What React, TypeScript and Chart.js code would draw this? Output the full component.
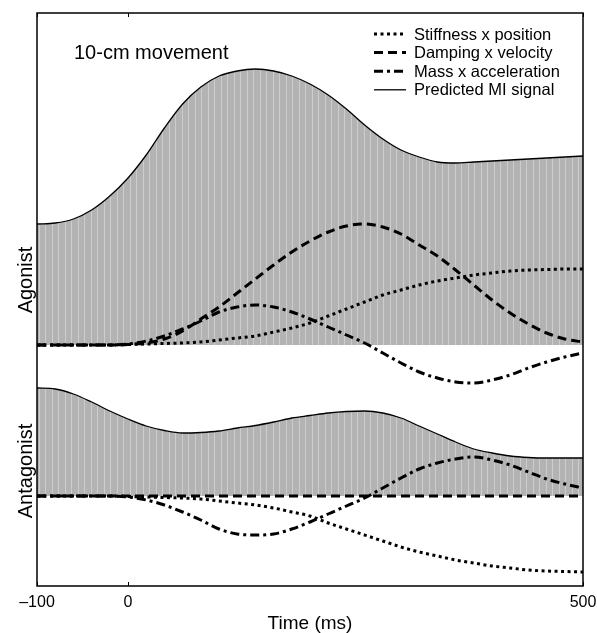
import { useEffect, useRef } from "react";
import { Chart, registerables } from "chart.js";

Chart.register(...registerables);

// ---------- data (arbitrary units) ----------
const TIME_MS = [
  -100, -80, -60, -40, -20, 0, 20, 40, 60, 80, 100, 120, 140, 160, 180, 200,
  220, 240, 260, 280, 300, 320, 340, 360, 380, 400, 420, 440, 460, 480, 500,
];

const AGONIST_STIFFNESS = [
  0, 0, 0, 0, 0, 0.5, 1, 1.5, 2, 3, 5, 7, 9, 13, 17, 22, 29, 36, 43, 50, 55,
  60, 64, 67, 70, 72, 74, 75, 75.5, 76, 76,
];
const AGONIST_DAMPING = [
  0, 0, 0, 0, 0, 0.5, 2, 6, 14, 26, 38, 52, 66, 80, 93, 104, 113, 119, 121,
  118, 111, 100, 89, 75, 60, 45, 32, 21, 12, 6, 3,
];
const AGONIST_MASS = [
  0, 0, 0, 0, 0, 1, 4, 9, 16, 24, 33, 38, 40, 38, 33, 26, 18, 10, 2, -8, -18,
  -27, -33, -37, -38, -35, -30, -23, -17, -12, -8,
];
const AGONIST_MI = [
  121, 122, 126, 135, 149, 167, 190, 217, 241, 258, 269, 274, 276, 274, 269,
  261, 250, 236, 220, 206, 195, 188, 183, 182, 183, 184, 185, 186, 187, 188,
  189,
];

const ANTAGONIST_STIFFNESS = [
  0, 0, 0, 0, 0, -0.5, -1, -1.5, -2, -3, -5, -7, -9, -12, -16, -20, -27, -33,
  -39, -45, -51, -56, -60, -64, -67, -70, -72, -74, -75, -75.5, -76,
];
const ANTAGONIST_DAMPING = [
  0, 0, 0, 0, 0, 0, 0, 0, 0, 0, 0, 0, 0, 0, 0, 0, 0, 0, 0, 0, 0, 0, 0, 0, 0,
  0, 0, 0, 0, 0, 0,
];
const ANTAGONIST_MASS = [
  0, 0, 0, 0, 0, -1, -4, -9, -16, -24, -33, -38, -39, -38, -33, -26, -18, -10,
  -2, 8, 18, 27, 33, 37, 39, 36, 31, 24, 17, 12, 8,
];
const ANTAGONIST_MI = [
  108, 107, 102, 94, 85, 77, 70, 65.5, 63, 63.5, 65, 68, 70.5, 74, 78, 80.5,
  83, 84.5, 85, 83, 78, 70, 62, 54, 47, 43, 40, 38.5, 38, 38, 38,
];

const X_TICKS = [-100, 0, 500];
const SERIES_LABELS = [
  "Stiffness x position",
  "Damping x velocity",
  "Mass x acceleration",
  "Predicted MI signal",
];
const PANEL_LABELS = ["Agonist", "Antagonist"];
const ANNOTATION = "10-cm movement";
const X_TITLE = "Time (ms)";

// ---------- styles ----------
const FONT = '"Liberation Sans", Arial, Helvetica, sans-serif';
const DOTTED = [3, 3.5];
const DASHED = [9, 5];
const DASHDOT = [9, 4, 3, 4];

const pts = (arr: number[]) => TIME_MS.map((t, i) => ({ x: t, y: arr[i] }));

export default function App() {
  const ref = useRef<HTMLCanvasElement>(null);

  useEffect(() => {
    const canvas = ref.current!;
    const ctx = canvas.getContext("2d")!;

    // striped grey fill pattern
    const pc = document.createElement("canvas");
    pc.width = 13;
    pc.height = 4;
    const p = pc.getContext("2d")!;
    p.fillStyle = "#b3b3b3";
    p.fillRect(0, 0, 13, 4);
    p.fillStyle = "#cdcdcd";
    p.fillRect(0, 0, 1, 4);
    p.fillRect(6, 0, 1, 4);
    const pattern = ctx.createPattern(pc, "repeat")!;

    const comp = (
      label: string,
      data: number[],
      axis: string,
      dash: number[],
      legend: boolean
    ) => ({
      label,
      data: pts(data),
      yAxisID: axis,
      borderColor: "#000",
      borderWidth: 3,
      borderDash: dash,
      borderCapStyle: "butt" as const,
      pointRadius: 0,
      fill: false,
      cubicInterpolationMode: "monotone" as const,
      showInLegend: legend,
    });
    const mi = (label: string, data: number[], axis: string, legend: boolean) => ({
      label,
      data: pts(data),
      yAxisID: axis,
      borderColor: "#000",
      borderWidth: 1.3,
      borderDash: [] as number[],
      pointRadius: 0,
      fill: "origin",
      backgroundColor: pattern,
      cubicInterpolationMode: "monotone" as const,
      showInLegend: legend,
    });

    const decorations = {
      id: "decorations",
      afterDatasetsDraw(chart: any) {
        const c = chart.ctx as CanvasRenderingContext2D;
        const a = chart.chartArea;
        const xs = chart.scales.x;
        c.save();
        c.strokeStyle = "#000";
        c.lineWidth = 1.5;
        c.setLineDash([]);
        c.strokeRect(a.left, a.top, a.right - a.left, a.bottom - a.top);
        c.lineWidth = 1;
        X_TICKS.forEach((v) => {
          const px = Math.round(xs.getPixelForValue(v)) + 0.5;
          c.beginPath();
          c.moveTo(px, a.top);
          c.lineTo(px, a.top + 4);
          c.moveTo(px, a.bottom);
          c.lineTo(px, a.bottom - 4);
          c.stroke();
        });
        c.restore();
      },
      afterDraw(chart: any) {
        const c = chart.ctx as CanvasRenderingContext2D;
        const a = chart.chartArea;
        c.save();
        c.fillStyle = "#000";
        c.textBaseline = "middle";

        // annotation
        c.font = `20px ${FONT}`;
        c.textAlign = "left";
        c.fillText(ANNOTATION, a.left + 37, a.top + 40);

        // legend
        const items = chart.data.datasets.filter((d: any) => d.showInLegend);
        const lx = a.left + 337;
        let ly = a.top + 21;
        c.font = `16.5px ${FONT}`;
        items.forEach((d: any) => {
          c.beginPath();
          c.setLineDash(d.borderDash || []);
          c.lineWidth = d.borderWidth;
          c.lineCap = "butt";
          c.strokeStyle = "#000";
          c.moveTo(lx, ly);
          c.lineTo(lx + 32, ly);
          c.stroke();
          c.setLineDash([]);
          c.fillText(d.label, lx + 40, ly + 1);
          ly += 18.6;
        });

        // panel labels
        c.font = `20px ${FONT}`;
        c.textAlign = "center";
        const places = [
          chart.scales.yA.getPixelForValue(65),
          chart.scales.yB.getPixelForValue(25),
        ];
        PANEL_LABELS.forEach((txt, i) => {
          c.save();
          c.translate(a.left - 11, places[i]);
          c.rotate(-Math.PI / 2);
          c.fillText(txt, 0, 0);
          c.restore();
        });
        c.restore();
      },
    };

    const chart = new Chart(canvas, {
      type: "line",
      data: {
        datasets: [
          comp(SERIES_LABELS[0], AGONIST_STIFFNESS, "yA", DOTTED, true),
          comp(SERIES_LABELS[1], AGONIST_DAMPING, "yA", DASHED, true),
          comp(SERIES_LABELS[2], AGONIST_MASS, "yA", DASHDOT, true),
          mi(SERIES_LABELS[3], AGONIST_MI, "yA", true),
          comp(SERIES_LABELS[0], ANTAGONIST_STIFFNESS, "yB", DOTTED, false),
          comp(SERIES_LABELS[1], ANTAGONIST_DAMPING, "yB", DASHED, false),
          comp(SERIES_LABELS[2], ANTAGONIST_MASS, "yB", DASHDOT, false),
          mi(SERIES_LABELS[3], ANTAGONIST_MI, "yB", false),
        ].map((d, i) => ({ ...d, order: d.fill === "origin" ? 10 + i : i })) as any,
      },
      options: {
        animation: false,
        responsive: true,
        maintainAspectRatio: false,
        events: [],
        layout: { padding: { left: 37, right: 14, top: 13, bottom: 0 } },
        plugins: {
          legend: { display: false },
          tooltip: { enabled: false },
        },
        scales: {
          x: {
            type: "linear",
            min: -100,
            max: 500,
            afterBuildTicks: (s: any) => {
              s.ticks = X_TICKS.map((v) => ({ value: v }));
            },
            grid: { display: false, drawTicks: false },
            border: { display: false },
            ticks: {
              autoSkip: false,
              maxRotation: 0,
              padding: 0,
              color: "#000",
              font: { family: FONT, size: 16, lineHeight: 2.1 },
              callback: (v: any) =>
                Number(v) < 0 ? "\u2013" + Math.abs(Number(v)) : String(v),
            },
            title: {
              display: true,
              text: X_TITLE,
              color: "#000",
              font: { family: FONT, size: 19, lineHeight: 1 },
              padding: { top: -5.6, bottom: 0 },
            },
          },
          yA: { type: "linear", display: false, min: -241, max: 332 },
          yB: { type: "linear", display: false, min: -90, max: 483 },
        },
      },
      plugins: [decorations],
    });

    return () => chart.destroy();
  }, []);

  return (
    <div style={{ position: "fixed", left: 0, top: 0, width: 597, height: 633, background: "#fff" }}>
      <canvas ref={ref} />
    </div>
  );
}
